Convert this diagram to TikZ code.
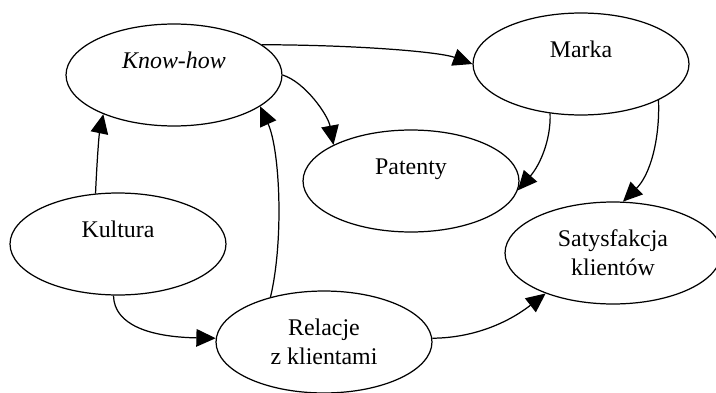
\documentclass[tikz,border=0pt]{standalone}
\usepackage{fontspec}
\setmainfont{Liberation Serif}
\usetikzlibrary{shapes.geometric,arrows.meta}

\begin{document}
\begin{tikzpicture}[x=0.02cm, y=-0.02cm,
	blob/.style={ellipse, draw, line width=0.7pt, minimum width=4.32cm, minimum height=2.04cm, align=center, inner sep=0pt, font=\fontsize{13.6}{16.5}\selectfont},
	link/.style={line width=0.7pt, -{Triangle[length=11pt, width=10pt]}}]
			
			\useasboundingbox (0, 0) rectangle (716, 392);

			\node[blob] (knowhow) at (174, 75) {\textit{Know-how}\\~};
\node[blob] (marka) at (581, 64) {Marka\\~};
\node[blob] (patenty) at (411, 181) {Patenty\\~};
\node[blob] (kultura) at (118, 244) {Kultura\\~};
\node[blob] (relacje) at (324, 342) {Relacje\\z klientami};
\node[blob] (satysf) at (613, 253) {Satysfakcja\\klientów};

			\draw[link] (knowhow.19) .. controls (360, 45) and (440, 52) .. (marka.180);
\draw[link] (knowhow.0) .. controls (305, 82) and (328, 115) .. (patenty.155);
\draw[link] (kultura.114) .. controls (97, 160) and (99, 135) .. (knowhow.209);
\draw[link] (relacje.140) .. controls (284, 240) and (280, 150) .. (knowhow.340);
\draw[link] (marka.238) .. controls (551, 140) and (540, 165) .. (patenty.355);
\draw[link] (marka.335) .. controls (660, 140) and (650, 175) .. (satysf.79);
\draw[link] (kultura.265) .. controls (114, 325) and (150, 337) .. (relacje.178);
\draw[link] (relacje.2) .. controls (470, 338) and (505, 325) .. (satysf.211);

			
		\end{tikzpicture}
\end{document}
